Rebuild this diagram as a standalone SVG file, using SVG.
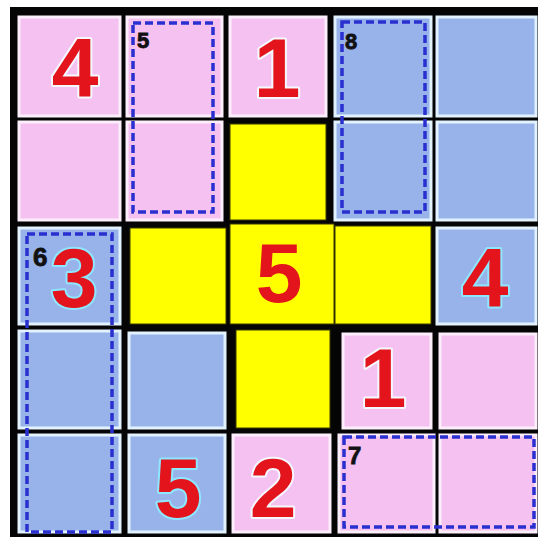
<svg xmlns="http://www.w3.org/2000/svg" width="544" height="542" viewBox="0 0 544 542">
<style>
.pink{fill:#f5c1f0;stroke:#fdeefc;stroke-width:3}
.blue{fill:#98b3ea;stroke:#e2f2ff;stroke-width:3}
.yellow{fill:#ffff00;stroke:#3a3a00;stroke-width:1}
.big{font-family:"Liberation Sans",Arial,sans-serif;font-weight:bold;font-size:84px;fill:#e3141c;text-anchor:middle;stroke:#f4f8ff;stroke-width:4;paint-order:stroke;stroke-linejoin:round}
.bb{stroke:#8fe6ff}
.cage{fill:none;stroke:#2a2fd0;stroke-width:3.5;stroke-dasharray:8 4}
.lbl{font-family:"Liberation Sans",Arial,sans-serif;font-weight:bold;font-size:22px;fill:#111;stroke:#111;stroke-width:0.8}
</style>
<rect x="0" y="0" width="544" height="542" fill="#ffffff"/>
<rect id="frame" x="10" y="7" width="528" height="530" fill="#050505"/>
<g id="cells">
<g id="r0c0"><rect class="pink" x="19" y="17" width="101" height="99"/><text class="big" x="75" y="97">4</text></g>
<g id="r0c1"><rect class="pink" x="127" y="17" width="95" height="99"/></g>
<g id="r0c2"><rect class="pink" x="230" y="17" width="96" height="99"/><text class="big" x="277" y="97">1</text></g>
<g id="r0c3"><rect class="blue" x="335" y="17" width="96" height="99"/></g>
<g id="r0c4"><rect class="blue" x="437" y="17" width="99" height="99"/></g>

<g id="r1c0"><rect class="pink" x="19" y="122" width="101" height="98"/></g>
<g id="r1c1"><rect class="pink" x="127" y="122" width="95" height="98"/></g>
<g id="r1c2"><rect class="yellow" x="230" y="124" width="96" height="96"/></g>
<g id="r1c3"><rect class="blue" x="335" y="122" width="96" height="98"/></g>
<g id="r1c4"><rect class="blue" x="437" y="122" width="99" height="98"/></g>

<g id="r2c0"><rect class="blue" x="19" y="228" width="101" height="96"/><text class="big bb" x="74" y="307">3</text></g>
<g id="r2c1"><rect class="yellow" x="130" y="228" width="96" height="96"/></g>
<g id="r2c2"><rect class="yellow" x="230" y="224" width="104" height="100"/><text class="big" x="279" y="302" style="stroke:none">5</text></g>
<g id="r2c3"><rect class="yellow" x="335" y="226" width="96" height="98"/></g>
<g id="r2c4"><rect class="blue" x="437" y="228" width="99" height="96"/><text class="big bb" x="485" y="307">4</text></g>

<g id="r3c0"><rect class="blue" x="19" y="331" width="101" height="97"/></g>
<g id="r3c1"><rect class="blue" x="129" y="333" width="96" height="95"/></g>
<g id="r3c2"><rect class="yellow" x="236" y="330" width="94" height="98"/></g>
<g id="r3c3"><rect class="pink" x="343" y="334" width="88" height="94"/><text class="big" x="383" y="407">1</text></g>
<g id="r3c4"><rect class="pink" x="440" y="334" width="96" height="94"/></g>

<g id="r4c0"><rect class="blue" x="19" y="435" width="101" height="97"/></g>
<g id="r4c1"><rect class="blue" x="129" y="435" width="96" height="97"/><text class="big bb" x="178" y="517">5</text></g>
<g id="r4c2"><rect class="pink" x="233" y="435" width="97" height="97"/><text class="big" x="273" y="517">2</text></g>
<g id="r4c3"><rect class="pink" x="339" y="435" width="95" height="97"/></g>
<g id="r4c4"><rect class="pink" x="440" y="435" width="96" height="97"/></g>
</g>
<g id="cages">
<g id="cage5"><rect class="cage" x="133" y="23" width="80" height="189"/><text class="lbl" x="137" y="48">5</text></g>
<g id="cage8"><rect class="cage" x="342" y="22" width="83" height="190"/><text class="lbl" x="345" y="49">8</text></g>
<g id="cage6"><rect class="cage" x="27" y="234" width="85" height="298"/><text class="lbl" x="33" y="266" style="font-size:26px">6</text></g>
<g id="cage7"><rect class="cage" x="344" y="437" width="190" height="90"/><text class="lbl" x="348" y="464" style="font-size:24px">7</text></g>
</g>
</svg>
